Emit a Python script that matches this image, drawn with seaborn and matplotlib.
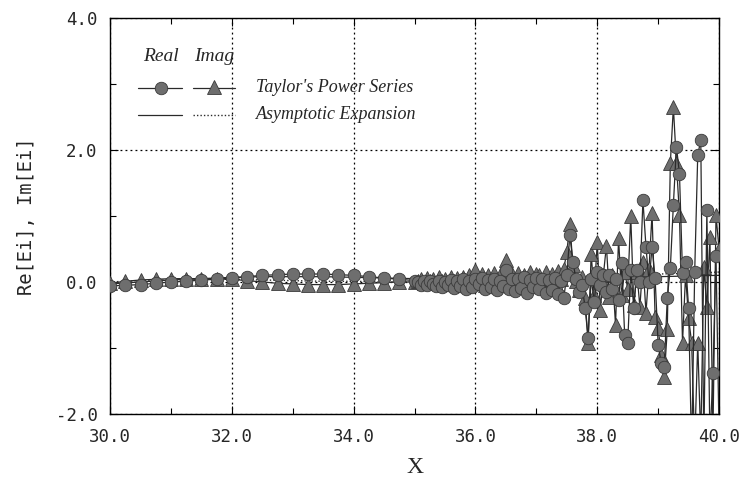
import numpy as np
import pandas as pd
import matplotlib
matplotlib.use("Agg")
import matplotlib.pyplot as plt
import seaborn as sns
from matplotlib.ticker import MultipleLocator, FormatStrFormatter

# ---------------- data ----------------
# Taylor's power series, coarse part (step 0.25)
x_coarse = [30.0, 30.25, 30.5, 30.75, 31.0, 31.25, 31.5, 31.75, 32.0, 32.25, 32.5,
            32.75, 33.0, 33.25, 33.5, 33.75, 34.0, 34.25, 34.5, 34.75, 35.0]
re_coarse = [-0.06, -0.05, -0.04, -0.02, 0.0, 0.01, 0.03, 0.04, 0.06, 0.08, 0.10,
             0.11, 0.12, 0.12, 0.12, 0.11, 0.10, 0.08, 0.06, 0.04, 0.02]
im_coarse = [-0.02, 0.01, 0.03, 0.04, 0.05, 0.05, 0.05, 0.05, 0.04, 0.02, 0.00,
             -0.02, -0.03, -0.04, -0.04, -0.04, -0.03, -0.02, -0.01, 0.00, 0.00]

# Taylor's power series, fine part (step 0.05 from 35.05 to 40.00)
x_fine = [round(35.05 + 0.05 * i, 2) for i in range(100)]
re_fine = [
    0.00, -0.04, 0.02, -0.05, 0.01, -0.03, -0.06, 0.02, -0.08, 0.00,
    -0.05, 0.03, -0.09, 0.01, -0.06, 0.04, -0.10, 0.02, -0.07, 0.05,
    -0.03, 0.06, -0.10, 0.03, -0.08, 0.05, -0.12, 0.02, -0.06, 0.18,
    -0.10, 0.04, -0.14, 0.05, -0.09, 0.07, -0.16, 0.03, -0.08, 0.06,
    -0.10, 0.05, -0.16, 0.03, -0.12, 0.06, -0.18, 0.02, -0.24, 0.10,
    0.71, 0.30, 0.05, -0.15, -0.05, -0.39, -0.85, 0.05, -0.30, 0.15,
    -0.05, 0.10, -0.15, 0.10, -0.10, 0.05, -0.27, 0.28, -0.80, -0.92,
    0.18, -0.39, 0.18, 0.00, 1.24, 0.53, 0.00, 0.53, 0.06, -0.95,
    -1.23, -1.29, -0.24, 0.21, 1.17, 2.05, 1.64, 0.14, 0.30, -0.39,
    -2.60, 0.15, 1.92, 2.15, -2.50, 1.09, -2.40, -1.38, 0.40, -2.30,
]
im_fine = [
    0.02, 0.05, -0.01, 0.06, 0.02, 0.04, -0.02, 0.07, 0.01, 0.05,
    -0.02, 0.08, 0.02, 0.06, -0.03, 0.08, 0.02, 0.10, -0.02, 0.18,
    0.03, 0.12, -0.04, 0.10, 0.00, 0.13, -0.05, 0.10, 0.02, 0.33,
    0.00, 0.12, -0.05, 0.14, 0.02, 0.11, -0.06, 0.15, 0.00, 0.12,
    0.10, -0.06, 0.15, -0.04, 0.12, -0.08, 0.16, 0.05, 0.20, 0.45,
    0.88, 0.25, 0.02, -0.12, 0.08, -0.25, -0.92, 0.43, -0.20, 0.60,
    -0.42, 0.10, 0.55, -0.23, 0.10, -0.65, 0.66, -0.20, 0.15, -0.10,
    1.00, -0.35, 0.15, -0.38, 0.30, -0.47, 0.20, 1.04, -0.53, -0.70,
    -1.10, -1.44, -0.72, 1.80, 2.65, 1.80, 1.01, -0.92, 0.10, -0.55,
    -0.92, -2.50, -0.92, -2.40, 0.23, -0.38, 0.68, -2.30, 1.01, 0.50,
]

# Asymptotic expansion
x_asym = [30.0, 30.5, 31.0, 31.5, 32.0, 32.5, 33.0, 33.5, 34.0, 34.5, 35.0,
          35.5, 36.0, 36.5, 37.0, 37.5, 38.0, 38.5, 39.0, 39.5, 40.0]
re_asym = [-0.03, 0.00, 0.03, 0.05, 0.07, 0.08, 0.08, 0.08, 0.07, 0.06, 0.05,
           0.04, 0.04, 0.04, 0.05, 0.05, 0.06, 0.07, 0.08, 0.09, 0.10]
im_asym = [0.00, 0.02, 0.03, 0.04, 0.04, 0.03, 0.02, 0.01, 0.01, 0.00, 0.00,
           0.01, 0.02, 0.03, 0.05, 0.06, 0.08, 0.10, 0.12, 0.13, 0.15]

x_ticks = [30.0, 32.0, 34.0, 36.0, 38.0, 40.0]
y_ticks = [-2.0, 0.0, 2.0, 4.0]

# ---------------- plot ----------------
sns.set_style("ticks")
plt.rcParams["font.family"] = ["DejaVu Sans Mono", "DejaVu Sans"]

fig = plt.figure(figsize=(7.39, 4.84), dpi=100)
ax = fig.add_axes([0.149, 0.1446, 0.824, 0.8186])

taylor = pd.DataFrame({
    "x": x_coarse + x_fine,
    "re": re_coarse + re_fine,
    "im": im_coarse + im_fine,
})
asym = pd.DataFrame({"x": x_asym, "re": re_asym, "im": im_asym})

face = "#6e6e6e"
edge = "#3a3a3a"
linec = "#2a2a2a"

sns.lineplot(data=asym, x="x", y="re", ax=ax, color=linec, linewidth=0.9,
             estimator=None, zorder=2)
sns.lineplot(data=asym, x="x", y="im", ax=ax, color=linec, linewidth=1.0,
             linestyle=(0, (1, 1.5)), estimator=None, zorder=2)

sns.lineplot(data=taylor, x="x", y="im", ax=ax, color=linec, linewidth=0.9,
             marker="^", markersize=9.5, markerfacecolor=face,
             markeredgecolor=edge, markeredgewidth=0.6, estimator=None, zorder=3)
sns.lineplot(data=taylor, x="x", y="re", ax=ax, color=linec, linewidth=0.9,
             marker="o", markersize=9, markerfacecolor=face,
             markeredgecolor=edge, markeredgewidth=0.6, estimator=None, zorder=4)

ax.set_xlim(30, 40)
ax.set_ylim(-2, 4)
ax.set_xticks(x_ticks)
ax.set_yticks(y_ticks)
ax.xaxis.set_major_formatter(FormatStrFormatter("%.1f"))
ax.yaxis.set_major_formatter(FormatStrFormatter("%.1f"))
ax.xaxis.set_minor_locator(MultipleLocator(1.0))
ax.yaxis.set_minor_locator(MultipleLocator(1.0))
ax.tick_params(which="both", direction="in", top=True, right=True,
               color="black", width=0.8)
ax.tick_params(which="major", length=6, labelsize=12.5)
ax.tick_params(axis="x", which="major", pad=10)
ax.tick_params(axis="y", which="major", pad=9)
ax.tick_params(which="minor", length=4)
for s in ax.spines.values():
    s.set_color("black")
    s.set_linewidth(1.0)

ax.grid(True, which="major", color="black", linestyle=(0, (1.5, 2.5)),
        linewidth=0.9)

ax.set_ylabel("Re[Ei], Im[Ei]", fontsize=13.5, labelpad=14,
              family=["DejaVu Sans Mono"])
ax.set_xlabel("X", fontsize=17, family=["Liberation Serif"], labelpad=8)

# ---------------- legend (manual) ----------------
tf = ax.transAxes
lfont = dict(family=["Liberation Serif"], style="italic", fontsize=13)
hfont = dict(family=["Liberation Serif"], style="italic", fontsize=14)
ax.text(0.084, 0.902, "Real", ha="center", va="center", transform=tf, **hfont)
ax.text(0.171, 0.902, "Imag", ha="center", va="center", transform=tf, **hfont)
ax.plot([0.046, 0.118], [0.823, 0.823], color=linec, lw=0.9, transform=tf)
ax.plot([0.084], [0.823], marker="o", markersize=9, markerfacecolor=face,
        markeredgecolor=edge, markeredgewidth=0.6, transform=tf)
ax.plot([0.136, 0.205], [0.823, 0.823], color=linec, lw=0.9, transform=tf)
ax.plot([0.171], [0.826], marker="^", markersize=10, markerfacecolor=face,
        markeredgecolor=edge, markeredgewidth=0.6, transform=tf)
ax.plot([0.046, 0.118], [0.755, 0.755], color=linec, lw=0.9, transform=tf)
ax.plot([0.136, 0.205], [0.755, 0.755], color=linec, lw=1.0,
        linestyle=(0, (1, 1.5)), transform=tf)
ax.text(0.24, 0.823, "Taylor's Power Series", ha="left", va="center",
        transform=tf, **lfont)
ax.text(0.24, 0.755, "Asymptotic Expansion", ha="left", va="center",
        transform=tf, **lfont)

fig.savefig("out.png", dpi=100)
